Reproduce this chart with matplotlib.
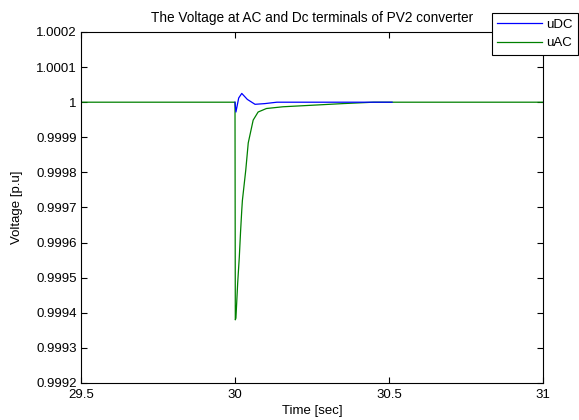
import matplotlib.pyplot as plt

plt.rcParams['font.family'] = ['Liberation Sans', 'DejaVu Sans']

# AC terminal voltage (p.u.)
t_ac = [29.5, 30.0, 30.001, 30.003, 30.0087, 30.014, 30.018, 30.022, 30.024,
        30.035, 30.043, 30.059, 30.075, 30.102, 30.156, 30.243, 30.35, 30.45, 31.0]
u_ac = [1.0, 1.0, 0.99938, 0.999385, 0.999485, 0.999559, 0.99963, 0.999693, 0.99972,
        0.999807, 0.999884, 0.999949, 0.999972, 0.999982, 0.999987, 0.999991,
        0.999996, 1.0, 1.0]

# DC terminal voltage (p.u.)
t_dc = [30.0, 30.003, 30.012, 30.022, 30.04, 30.065, 30.097, 30.136, 30.3, 30.51]
u_dc = [1.0, 0.999972, 1.000012, 1.000025, 1.000008, 0.999994, 0.999996, 1.0, 1.0, 1.0]

x_ticks = [29.5, 30, 30.5, 31]
x_labels = ['29.5', '30', '30.5', '31']
y_ticks = [0.9992, 0.9993, 0.9994, 0.9995, 0.9996, 0.9997, 0.9998, 0.9999, 1.0, 1.0001, 1.0002]
y_labels = ['0.9992', '0.9993', '0.9994', '0.9995', '0.9996', '0.9997', '0.9998',
            '0.9999', '1', '1.0001', '1.0002']

FS = 9.5

fig = plt.figure(figsize=(5.79, 4.2), dpi=100)
ax = fig.add_axes([81 / 579, 1 - 383 / 420, 462 / 579, 351 / 420])

ln_dc, = ax.plot(t_dc, u_dc, color='#0000ff', linewidth=0.9, zorder=3, label='uDC')
ln_ac, = ax.plot(t_ac, u_ac, color='#008000', linewidth=0.9, zorder=2, label='uAC')

ax.set_xlim(29.5, 31)
ax.set_ylim(0.9992, 1.0002)
ax.set_xticks(x_ticks)
ax.set_xticklabels(x_labels)
ax.set_yticks(y_ticks)
ax.set_yticklabels(y_labels)
ax.tick_params(direction='in', top=True, right=True, length=4, width=0.8,
               labelsize=FS)
ax.tick_params(axis='x', pad=4)
ax.tick_params(axis='y', pad=3)
for s in ax.spines.values():
    s.set_linewidth(0.8)

ax.set_title('The Voltage at AC and Dc terminals of PV2 converter', fontsize=9.8, pad=7)
ax.set_xlabel('Time [sec]', fontsize=FS)
ax.set_ylabel('Voltage [p.u]', fontsize=FS)
ax.xaxis.set_label_coords(0.5, -0.062)
ax.yaxis.set_label_coords(-0.125, 0.5)

leg = fig.legend(handles=[ln_dc, ln_ac], loc='upper right',
                 bbox_to_anchor=(578 / 579, 1 - 13 / 420), fontsize=FS,
                 fancybox=False, framealpha=1, edgecolor='black',
                 handlelength=3.4, handletextpad=0.3, borderpad=0.4,
                 labelspacing=0.5, borderaxespad=0)
leg.get_frame().set_linewidth(0.8)

fig.savefig('out.png', dpi=100)
